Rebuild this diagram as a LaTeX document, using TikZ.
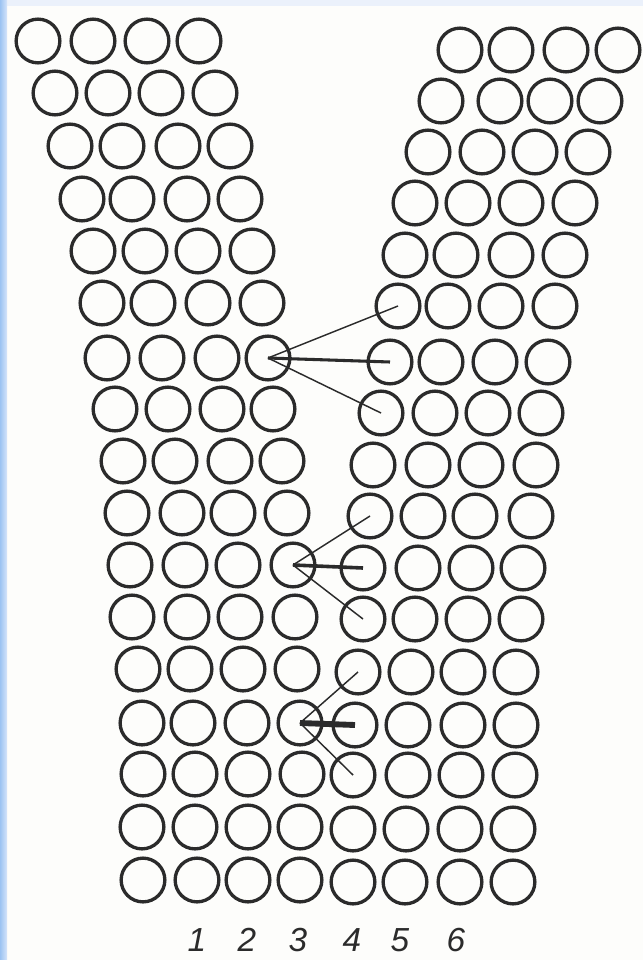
\documentclass[tikz,border=0pt]{standalone}
\usepackage{fontspec}
\setmainfont{Liberation Sans}
\usetikzlibrary{arrows.meta}
\definecolor{ink}{HTML}{2B2B2B}
\definecolor{edgeblue}{HTML}{9CC3F2}
\definecolor{edgelight}{HTML}{D6E5FA}
\definecolor{topband}{HTML}{EBF1FB}
\definecolor{paper}{HTML}{FDFDFB}
\tikzset{
  ring/.style={circle, draw=ink, line width=2.5pt, minimum size=32.8pt, inner sep=0pt},
  thinlink/.style={draw=ink, line width=1.1pt},
  barlink/.style={draw=ink, line width=2.3pt},
  num/.style={font=\itshape\fontsize{25}{25}\selectfont, text=ink, inner sep=0pt}
}
\begin{document}
\begin{tikzpicture}[x=0.75pt,y=-0.75pt]
\useasboundingbox (0,0) rectangle (643,960);
\fill[paper] (0,0) rectangle (643,960);
\fill[topband] (0,0) rectangle (643,6);
\shade[left color=edgeblue, right color=edgelight] (0,0) rectangle (7,960);
% rows: index / left y / right y / left x (4) / right x (4)
\foreach \r/\ly/\ry/\la/\lb/\lc/\ld/\ra/\rb/\rc/\rd in {
  1/41/50/38/93/147/199/460/511/566/618,
  2/93/101/55/108/161/215/441/500/550/600,
  3/146/152/70/122/178/230/428/482/535/588,
  4/199/203/82/132/187/240/415/468/521/575,
  5/251/255/93/145/198/252/405/456/511/565,
  6/303/306/102/153/208/262/398/448/501/555,
  7/358/362/107/162/217/268/390/441/495/548,
  8/409/413/115/168/222/273/381/435/488/541,
  9/461/465/123/175/230/282/373/428/481/536,
  10/513/516/127/182/233/287/370/423/475/531,
  11/565/568/130/185/238/293/363/418/471/523,
  12/617/619/132/187/240/295/363/415/468/521,
  13/669/672/138/190/243/297/358/411/463/516,
  14/723/725/142/193/247/300/355/408/463/516,
  15/774/775/143/195/248/302/353/408/461/515,
  16/827/829/142/195/248/300/353/406/460/513,
  17/880/882/143/197/248/300/353/405/460/513}{
  \node[ring] (L\r-1) at (\la,\ly) {};
  \node[ring] (L\r-2) at (\lb,\ly) {};
  \node[ring] (L\r-3) at (\lc,\ly) {};
  \node[ring] (L\r-4) at (\ld,\ly) {};
  \node[ring] (R\r-1) at (\ra,\ry) {};
  \node[ring] (R\r-2) at (\rb,\ry) {};
  \node[ring] (R\r-3) at (\rc,\ry) {};
  \node[ring] (R\r-4) at (\rd,\ry) {};
}
% group 1
\draw[thinlink] (L7-4.center) -- (R6-1.center);
\draw[thinlink] (L7-4.center) -- (R8-1.center);
\draw[barlink] (L7-4.center) -- (R7-1.center);
% group 2
\draw[thinlink] (L11-4.center) -- (R10-1.center);
\draw[thinlink] (L11-4.center) -- (R12-1.center);
\draw[barlink, line width=2.7pt] (L11-4.center) -- (R11-1.center);
% group 3
\draw[thinlink] (L14-4.center) -- (R13-1.center);
\draw[thinlink] (L14-4.center) -- (R15-1.center);
\draw[barlink, line width=4.4pt] (L14-4.center) -- (R14-1.center);
% labels
\node[num] (n1) at (197,940) {1};
\node[num] (n2) at (247,940) {2};
\node[num] (n3) at (298,940) {3};
\node[num] (n4) at (352,940) {4};
\node[num] (n5) at (400,940) {5};
\node[num] (n6) at (456,940) {6};
\end{tikzpicture}
\end{document}
